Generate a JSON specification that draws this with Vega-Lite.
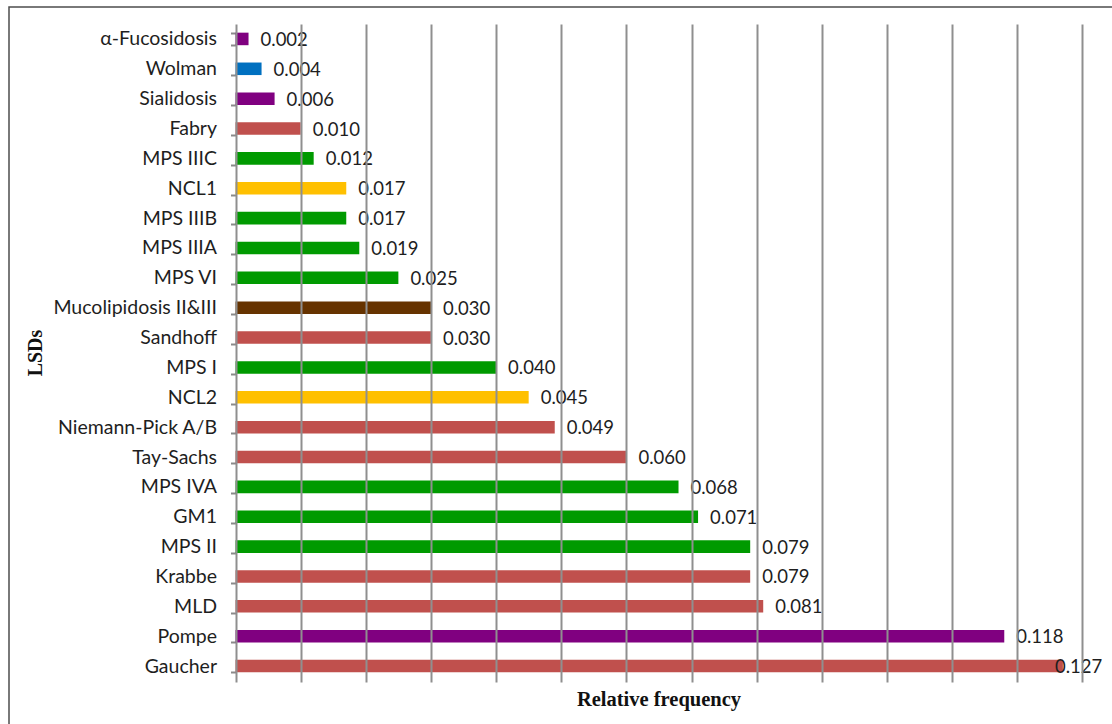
{
  "$schema": "https://vega.github.io/schema/vega-lite/v6.json",
  "width": 1106,
  "height": 720,
  "autosize": {"type": "none"},
  "padding": {"left": 9, "top": 7, "right": -3, "bottom": -3},
  "background": "white",
  "config": {
    "view": {"stroke": "#4d4d4d", "strokeWidth": 1.5},
    "text": {"font": "Lato"}
  },
  "data": {
    "values": [
      {"disease": "α-Fucosidosis", "freq": 0.002, "group": "Glycoproteinoses & glycogenoses"},
      {"disease": "Wolman", "freq": 0.004, "group": "Lipid storage"},
      {"disease": "Sialidosis", "freq": 0.006, "group": "Glycoproteinoses & glycogenoses"},
      {"disease": "Fabry", "freq": 0.010, "group": "Sphingolipidoses"},
      {"disease": "MPS IIIC", "freq": 0.012, "group": "MPS & GM1"},
      {"disease": "NCL1", "freq": 0.017, "group": "NCL"},
      {"disease": "MPS IIIB", "freq": 0.017, "group": "MPS & GM1"},
      {"disease": "MPS IIIA", "freq": 0.019, "group": "MPS & GM1"},
      {"disease": "MPS VI", "freq": 0.025, "group": "MPS & GM1"},
      {"disease": "Mucolipidosis II&III", "freq": 0.030, "group": "Mucolipidoses"},
      {"disease": "Sandhoff", "freq": 0.030, "group": "Sphingolipidoses"},
      {"disease": "MPS I", "freq": 0.040, "group": "MPS & GM1"},
      {"disease": "NCL2", "freq": 0.045, "group": "NCL"},
      {"disease": "Niemann-Pick A/B", "freq": 0.049, "group": "Sphingolipidoses"},
      {"disease": "Tay-Sachs", "freq": 0.060, "group": "Sphingolipidoses"},
      {"disease": "MPS IVA", "freq": 0.068, "group": "MPS & GM1"},
      {"disease": "GM1", "freq": 0.071, "group": "MPS & GM1"},
      {"disease": "MPS II", "freq": 0.079, "group": "MPS & GM1"},
      {"disease": "Krabbe", "freq": 0.079, "group": "Sphingolipidoses"},
      {"disease": "MLD", "freq": 0.081, "group": "Sphingolipidoses"},
      {"disease": "Pompe", "freq": 0.118, "group": "Glycoproteinoses & glycogenoses"},
      {"disease": "Gaucher", "freq": 0.127, "group": "Sphingolipidoses"}
    ]
  },
  "encoding": {
    "y": {
      "field": "disease",
      "type": "nominal",
      "sort": null,
      "scale": {"range": [17, 674], "paddingInner": 0.58, "paddingOuter": 0.29},
      "axis": {
        "orient": "left",
        "offset": -226.5,
        "grid": false,
        "domain": false,
        "ticks": true,
        "tickBand": "extent",
        "tickSize": 5,
        "tickColor": "#8a8a8a",
        "tickWidth": 2,
        "labelFont": "Lato",
        "labelFontSize": 19.5,
        "labelColor": "#1e1e1e",
        "labelPadding": 14,
        "title": "LSDs",
        "titleFont": "Liberation Serif",
        "titleFontSize": 20,
        "titleFontWeight": "bold",
        "titleColor": "#111111",
        "titleAngle": -90,
        "titleX": -200.5,
        "titleY": 345.5,
        "titleAlign": "center",
        "titleBaseline": "middle"
      }
    },
    "x": {
      "field": "freq",
      "type": "quantitative",
      "scale": {"domain": [-0.034766, 0.134996], "nice": false, "zero": false},
      "axis": {
        "orient": "bottom",
        "offset": -45,
        "values": [0, 0.01, 0.02, 0.03, 0.04, 0.05, 0.06, 0.07, 0.08, 0.09, 0.1, 0.11, 0.12, 0.13],
        "grid": false,
        "ticks": true,
        "tickSize": -658,
        "tickColor": "#8f8f8f",
        "tickWidth": 2,
        "labels": false,
        "domain": false,
        "zindex": 1,
        "title": "Relative frequency",
        "titleFont": "Liberation Serif",
        "titleFontSize": 20.5,
        "titleFontWeight": "bold",
        "titleColor": "#111111",
        "titleX": 649.5,
        "titleY": 23,
        "titleAlign": "center",
        "titleBaseline": "alphabetic"
      }
    }
  },
  "layer": [
    {
      "mark": {"type": "bar"},
      "encoding": {
        "x2": {"datum": 0},
        "color": {
          "field": "group",
          "type": "nominal",
          "legend": null,
          "scale": {
            "domain": ["Sphingolipidoses", "MPS & GM1", "Glycoproteinoses & glycogenoses", "Lipid storage", "NCL", "Mucolipidoses"],
            "range": ["#c0504d", "#009a00", "#800080", "#0070c0", "#ffc000", "#663300"]
          }
        }
      }
    },
    {
      "transform": [{"filter": "datum.freq < 0.125"}],
      "mark": {"type": "text", "align": "left", "baseline": "middle", "dx": 12, "dy": 1, "fontSize": 18.5, "color": "#1e1e1e"},
      "encoding": {"text": {"field": "freq", "type": "quantitative", "format": ".3f"}}
    },
    {
      "transform": [{"filter": "datum.freq >= 0.125"}],
      "mark": {"type": "text", "align": "left", "baseline": "middle", "dx": -8, "dy": 1, "fontSize": 18.5, "color": "#1e1e1e"},
      "encoding": {"text": {"field": "freq", "type": "quantitative", "format": ".3f"}}
    }
  ]
}
